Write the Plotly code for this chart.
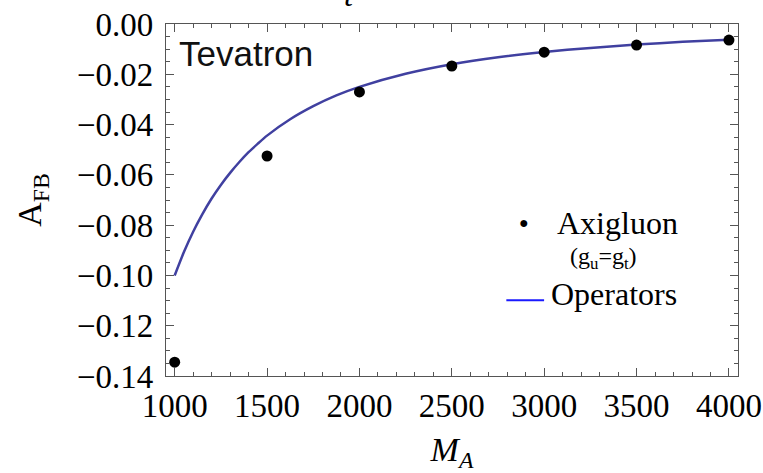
import plotly.graph_objects as go

# Axigluon points (g_u = g_t)
axi_mass = [1000, 1500, 2000, 2500, 3000, 3500, 4000]
axi_afb = [-0.1345, -0.0525, -0.027, -0.0167, -0.0112, -0.0084, -0.0064]

# Operators curve, values
op_mass = [1000, 1050, 1100, 1150, 1200, 1250, 1300, 1350, 1400, 1450, 1500, 1625, 1750, 1875,
           2000, 2250, 2500, 2750, 3000, 3250, 3500, 3750, 4000]
op_afb = [-0.100, -0.0907, -0.0826, -0.0756, -0.0694, -0.064, -0.0592, -0.0549, -0.051, -0.0476,
          -0.0444, -0.0379, -0.0327, -0.0284, -0.025, -0.0198, -0.016, -0.0132, -0.0111, -0.0095,
          -0.0082, -0.0071, -0.0063]

x_ticks = [1000, 1500, 2000, 2500, 3000, 3500, 4000]
y_ticks = [0.00, -0.02, -0.04, -0.06, -0.08, -0.10, -0.12, -0.14]
y_ticktext = ["0.00", "−0.02", "−0.04", "−0.06", "−0.08", "−0.10", "−0.12", "−0.14"]

SERIF = "Liberation Serif"
SANS = "Liberation Sans"
FRAME = "#555555"
TICKFONT = dict(family=SERIF, size=33, color="black")

fig = go.Figure()
fig.add_trace(go.Scatter(x=op_mass, y=op_afb, mode="lines", line=dict(color="#4040a0", width=2.5, shape="spline", smoothing=0.6),
                         name="Operators", showlegend=False))
fig.add_trace(go.Scatter(x=axi_mass, y=axi_afb, mode="markers", marker=dict(color="black", size=11),
                         name="Axigluon", showlegend=False))

fig.update_layout(
    width=763, height=473,
    margin=dict(l=166, r=25, t=24, b=97),
    paper_bgcolor="white", plot_bgcolor="white",
    font=dict(family=SERIF, color="black"),
)
fig.update_xaxes(range=[953, 4049], tickvals=x_ticks, ticktext=[str(v) for v in x_ticks],
                 tickfont=TICKFONT,
                 showgrid=False, zeroline=False, showline=True, linecolor=FRAME, linewidth=1.3,
                 mirror="allticks", ticks="inside", ticklen=8, tickcolor=FRAME, tickwidth=1,
                 automargin=False,
                 minor=dict(dtick=100, tick0=1000, ticklen=4, ticks="inside", tickcolor=FRAME),
                 title=dict(text="<i>M<sub>A</sub></i>", font=dict(family=SERIF, size=34, color="black"), standoff=22))
fig.update_yaxes(range=[-0.14, 0.0], tickvals=y_ticks, ticktext=y_ticktext,
                 tickfont=TICKFONT, ticklabelstandoff=5,
                 showgrid=False, zeroline=False, showline=True, linecolor=FRAME, linewidth=1.3,
                 mirror="allticks", ticks="inside", ticklen=8, tickcolor=FRAME, tickwidth=1,
                 automargin=False,
                 minor=dict(dtick=0.005, tick0=0, ticklen=4, ticks="inside", tickcolor=FRAME),
                 title=dict(text="A<sub>FB</sub>", font=dict(family=SERIF, size=34, color="black"), standoff=24))

annots = [
    dict(text="Tevatron", x=0.02, y=0.915, xanchor="left", yanchor="middle",
         font=dict(family=SANS, size=35, color="#111111")),
    dict(text="<i>t</i>", x=0.32, y=1.026, xanchor="center", yanchor="bottom",
         font=dict(family=SERIF, size=32, color="black")),
    dict(text="●", x=0.625, y=0.435, xanchor="center", yanchor="middle",
         font=dict(family=SANS, size=16, color="black")),
    dict(text="Axigluon", x=0.68, y=0.435, xanchor="left", yanchor="middle",
         font=dict(family=SERIF, size=32, color="black")),
    dict(text="(g<sub>u</sub>=g<sub>t</sub>)", x=0.702, y=0.335, xanchor="left", yanchor="middle",
         font=dict(family=SERIF, size=24, color="black")),
    dict(text="Operators", x=0.67, y=0.232, xanchor="left", yanchor="middle",
         font=dict(family=SERIF, size=32, color="black")),
]
for a in annots:
    fig.add_annotation(xref="paper", yref="paper", showarrow=False, **a)

fig.add_shape(type="line", xref="paper", yref="paper", x0=0.595, x1=0.661, y0=0.215, y1=0.215,
              line=dict(color="#1a1aff", width=2))

fig.write_html("out.html")
